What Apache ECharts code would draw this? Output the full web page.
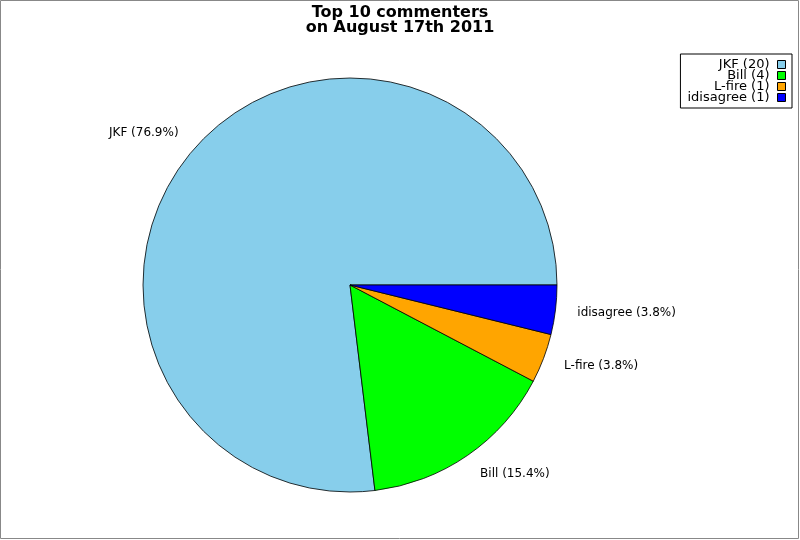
<!DOCTYPE html>
<html><head><meta charset="utf-8">
<script src="https://cdn.jsdelivr.net/npm/echarts@6/dist/echarts.min.js"></script>
<style>html,body{margin:0;padding:0;background:#fff}#c{width:800px;height:540px}</style>
</head><body><div id="c"></div>
<script>
const names = ['JKF', 'Bill', 'L-fire', 'idisagree'];
const counts = [20, 4, 1, 1];
const colors = ['#87CEEB', '#00FF00', '#FFA500', '#0000FF'];
const titleText = 'Top 10 commenters\non August 17th 2011';

const chart = echarts.init(document.getElementById('c'));
const data = names.map((n, i) => ({ name: n, value: counts[i], itemStyle: { color: colors[i] } }));
const legendMap = {};
names.forEach((n, i) => legendMap[n] = n + ' (' + counts[i] + ')');
const total = counts.reduce((a, b) => a + b, 0);

chart.setOption({
  animation: false,
  textStyle: { fontFamily: 'DejaVu Sans' },
  title: {
    text: titleText, left: 'center', top: 0,
    textStyle: { fontSize: 16, fontWeight: 'bold', color: '#000', lineHeight: 15, fontFamily: 'DejaVu Sans' }
  },
  graphic: [{
    type: 'rect', silent: true,
    shape: { x: 0.5, y: 0.5, width: 798, height: 538 },
    style: { fill: 'none', stroke: '#888', lineWidth: 1 }
  }],
  legend: {
    orient: 'vertical', right: 8, top: 54, align: 'right',
    itemWidth: 8, itemHeight: 8, itemGap: -2,
    padding: [4, 6, 4, 7],
    borderColor: '#000', borderWidth: 1, backgroundColor: '#fff',
    icon: 'rect',
    itemStyle: { borderColor: '#000', borderWidth: 1 },
    formatter: n => legendMap[n],
    textStyle: { fontSize: 13, color: '#000', padding: [0, 3, 0, 0], fontFamily: 'DejaVu Sans' },
    data: names
  },
  series: [{
    type: 'pie',
    center: [350, 285], radius: 207,
    startAngle: 0, clockwise: false,
    avoidLabelOverlap: false,
    itemStyle: { borderColor: '#000', borderWidth: 0.8 },
    emphasis: { disabled: true },
    label: {
      show: true, position: 'outside', distanceToLabelLine: 0,
      fontSize: 12, color: '#000', fontFamily: 'DejaVu Sans',
      formatter: p => p.name + ' (' + (p.value / total * 100).toFixed(1) + '%)'
    },
    labelLine: { show: false, length: 22, length2: 0 },
    data: data
  }]
});
</script></body></html>
